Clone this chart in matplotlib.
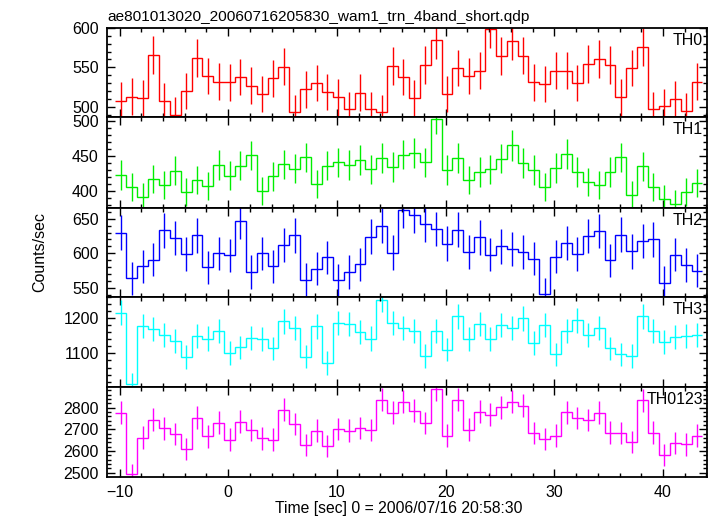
import matplotlib
matplotlib.use("Agg")
import matplotlib.pyplot as plt
from matplotlib.ticker import MultipleLocator
import numpy as np

plt.rcParams['font.family'] = ['Liberation Sans', 'DejaVu Sans']

TITLE = "ae801013020_20060716205830_wam1_trn_4band_short.qdp"
XLABEL = "Time [sec] 0 = 2006/07/16 20:58:30"
YLABEL = "Counts/sec"

# bin centres (s), 1 s bins
TIME = [-9.875, -8.875, -7.875, -6.875, -5.875, -4.875, -3.875, -2.875, -1.875, -0.875,
        0.125, 1.125, 2.125, 3.125, 4.125, 5.125, 6.125, 7.125, 8.125, 9.125,
        10.125, 11.125, 12.125, 13.125, 14.125, 15.125, 16.125, 17.125, 18.125, 19.125,
        20.125, 21.125, 22.125, 23.125, 24.125, 25.125, 26.125, 27.125, 28.125, 29.125,
        30.125, 31.125, 32.125, 33.125, 34.125, 35.125, 36.125, 37.125, 38.125, 39.125,
        40.125, 41.125, 42.125, 43.125]
BIN_WIDTH = 1.0

TH0 = [508, 513, 511, 566, 507, 490, 520, 562, 539, 532, 531, 538, 527, 516, 536, 551, 493, 522,
       530, 519, 512, 497, 518, 497, 493, 552, 538, 511, 553, 585, 516, 549, 539, 546, 598, 564,
       583, 565, 531, 529, 546, 546, 530, 554, 561, 553, 512, 549, 576, 497, 501, 510, 495, 532]
TH0_ERR = [23, 23, 23, 24, 23, 22, 23, 24, 23, 23, 23, 23, 23, 23, 23, 23, 22, 23,
           23, 23, 23, 22, 23, 22, 22, 24, 23, 23, 24, 24, 23, 23, 23, 23, 24, 24,
           24, 24, 23, 23, 23, 23, 23, 24, 24, 24, 23, 23, 24, 22, 22, 23, 22, 23]

TH1 = [423, 405, 392, 417, 408, 429, 398, 415, 407, 437, 422, 436, 451, 400, 421, 438, 432, 448,
       410, 436, 441, 437, 444, 431, 447, 434, 452, 454, 441, 503, 430, 447, 416, 427, 431, 446,
       465, 440, 430, 406, 433, 453, 427, 413, 409, 427, 448, 394, 435, 405, 388, 381, 399, 411]
TH1_ERR = [21, 20, 20, 20, 20, 21, 20, 20, 20, 21, 21, 21, 21, 20, 21, 21, 21, 21,
           20, 21, 21, 21, 21, 21, 21, 21, 21, 21, 21, 22, 21, 21, 20, 21, 21, 21,
           22, 21, 21, 20, 21, 21, 21, 20, 20, 21, 21, 20, 21, 20, 20, 20, 20, 20]

TH2 = [630, 564, 581, 591, 633, 622, 599, 626, 580, 600, 597, 646, 573, 600, 581, 612, 626, 562,
       578, 594, 561, 573, 584, 624, 640, 601, 663, 656, 642, 635, 614, 634, 602, 623, 598, 610,
       606, 602, 592, 541, 595, 615, 599, 625, 632, 590, 627, 603, 618, 620, 557, 598, 583, 575]
TH2_ERR = [25, 24, 24, 24, 25, 25, 24, 25, 24, 24, 24, 25, 24, 24, 24, 25, 25, 24,
           24, 24, 24, 24, 24, 25, 25, 25, 26, 26, 25, 25, 25, 25, 25, 25, 24, 25,
           25, 25, 24, 23, 24, 25, 24, 25, 25, 24, 25, 25, 25, 25, 24, 24, 24, 24]

TH3 = [1215, 1013, 1177, 1169, 1153, 1136, 1090, 1149, 1142, 1162, 1101, 1117, 1144, 1141, 1114,
       1191, 1172, 1091, 1176, 1073, 1187, 1184, 1161, 1142, 1251, 1187, 1172, 1162, 1093, 1162,
       1111, 1205, 1140, 1183, 1140, 1180, 1172, 1199, 1129, 1179, 1097, 1163, 1194, 1153, 1173,
       1114, 1097, 1093, 1205, 1164, 1133, 1146, 1150, 1152]
TH3_ERR = [35, 32, 34, 34, 34, 34, 33, 34, 34, 34, 33, 33, 34, 34, 33,
           35, 34, 33, 34, 33, 34, 34, 34, 34, 35, 34, 34, 34, 33, 34,
           33, 35, 34, 34, 34, 34, 34, 35, 34, 34, 33, 34, 35, 34, 34,
           33, 33, 33, 35, 34, 34, 34, 34, 34]

TH0123 = [2777, 2492, 2662, 2745, 2704, 2678, 2607, 2754, 2667, 2731, 2653, 2736, 2696, 2658, 2653,
          2791, 2725, 2626, 2694, 2621, 2702, 2694, 2707, 2696, 2837, 2777, 2828, 2786, 2730, 2887,
          2671, 2837, 2699, 2782, 2768, 2802, 2828, 2809, 2682, 2655, 2671, 2779, 2753, 2743, 2777,
          2685, 2684, 2641, 2835, 2685, 2581, 2638, 2630, 2671]
TH0123_ERR = [53, 50, 52, 52, 52, 52, 51, 52, 52, 52, 52, 52, 52, 52, 52,
              53, 52, 51, 52, 51, 52, 52, 52, 52, 53, 53, 53, 53, 52, 54,
              52, 53, 52, 53, 53, 53, 53, 53, 52, 52, 52, 53, 52, 52, 53,
              52, 52, 51, 53, 52, 51, 51, 51, 52]

NAMES = ["TH0", "TH1", "TH2", "TH3", "TH0123"]
SERIES = [TH0, TH1, TH2, TH3, TH0123]
ERRORS = [TH0_ERR, TH1_ERR, TH2_ERR, TH3_ERR, TH0123_ERR]
COLORS = ["#ff0000", "#00ee00", "#0000ff", "#00ffff", "#ff00ff"]
YLIMS = [(487.5, 600.5), (376.4, 506.1), (537.6, 666.2), (1006.5, 1260.7), (2482, 2898)]
YMAJ = [50, 50, 50, 100, 100]
YMIN = [10, 10, 10, 20, 20]

W, H = 717, 516
fig = plt.figure(figsize=(W / 100, H / 100), dpi=100)
bounds = [27.5, 116.7, 207.5, 296.5, 386.5, 476.5]
x0, x1 = 107, 707

t = np.array(TIME)
edges = np.append(t - BIN_WIDTH / 2, t[-1] + BIN_WIDTH / 2)

axes = []
for i in range(5):
    b = 1 - bounds[i + 1] / H
    h = (bounds[i + 1] - bounds[i]) / H
    ax = fig.add_axes([x0 / W, b, (x1 - x0) / W, h])
    axes.append(ax)
    c = COLORS[i]
    ax.stairs(SERIES[i], edges, color=c, lw=1.0, baseline=None)
    ax.errorbar(t, SERIES[i], yerr=ERRORS[i], fmt='none', ecolor=c, elinewidth=1.0, capsize=0)
    ax.set_xlim(-11.15, 44.05)
    ax.set_ylim(*YLIMS[i])
    ax.xaxis.set_major_locator(MultipleLocator(10))
    ax.xaxis.set_minor_locator(MultipleLocator(2))
    ax.yaxis.set_major_locator(MultipleLocator(YMAJ[i]))
    ax.yaxis.set_minor_locator(MultipleLocator(YMIN[i]))
    ax.tick_params(which='both', direction='in', top=True, right=True, width=1.0, color='black')
    ax.tick_params(which='major', length=6)
    ax.tick_params(which='minor', length=3)
    ax.tick_params(axis='y', labelsize=11.5, pad=6)
    ax.tick_params(axis='x', labelsize=11.5, pad=6)
    for s in ax.spines.values():
        s.set_linewidth(1.3)
    if i < 4:
        ax.tick_params(axis='x', labelbottom=False)
    ax.text(0.993, 0.94, NAMES[i], transform=ax.transAxes, ha='right', va='top', fontsize=11.5)

fig.text(x0 / W, 1 - 20.5 / H, TITLE, ha='left', va='baseline', fontsize=11.1)
fig.text(399 / W, 1 - 508 / H, XLABEL, ha='center', va='center', fontsize=11.3)
fig.text(40 / W, 1 - 252 / H, YLABEL, ha='center', va='center', rotation=90, fontsize=11.5)

fig.savefig("out.png", dpi=100)
